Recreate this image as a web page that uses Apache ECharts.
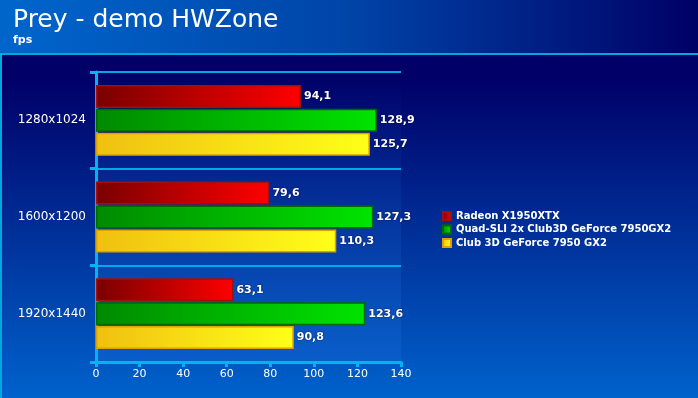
<!DOCTYPE html>
<html>
<head>
<meta charset="utf-8">
<script src="https://cdn.jsdelivr.net/npm/echarts@6/dist/echarts.min.js"></script>
<style>
html, body { margin: 0; padding: 0; background: #000066; }
#chart { width: 698px; height: 398px; }
</style>
</head>
<body>
<div id="chart"></div>
<script>
var resolutions = ['1280x1024', '1600x1200', '1920x1440'];
var radeon = [94.1, 79.6, 63.1];
var quadSli = [128.9, 127.3, 123.6];
var club3d = [125.7, 110.3, 90.8];
var seriesNames = ['Radeon X1950XTX', 'Quad-SLI 2x Club3D GeForce 7950GX2', 'Club 3D GeForce 7950 GX2'];

var myChart = echarts.init(document.getElementById('chart'));

function hGrad(a, b) {
    return new echarts.graphic.LinearGradient(0, 0, 1, 0, [
        { offset: 0, color: a },
        { offset: 1, color: b }
    ]);
}

var barLabel = {
    show: true,
    position: 'right',
    distance: 3,
    color: '#ffffff',
    fontFamily: 'DejaVu Sans',
    fontWeight: 'bold',
    fontSize: 11,
    textShadowColor: 'rgba(0,0,40,0.8)',
    textShadowBlur: 2,
    formatter: function (p) { return String(p.value).replace('.', ','); }
};

function makeSeries(name, data, c1, c2, border) {
    return {
        name: name,
        type: 'bar',
        data: data,
        barWidth: 23,
        barGap: '4%',
        label: barLabel,
        itemStyle: {
            color: hGrad(c1, c2),
            borderColor: border,
            borderWidth: 1.5
        }
    };
}

option = {
    backgroundColor: new echarts.graphic.LinearGradient(0, 0, 0, 1, [
        { offset: 0, color: '#000066' },
        { offset: 0.2, color: '#000068' },
        { offset: 1, color: '#0062cc' }
    ]),
    graphic: [
        {
            type: 'rect',
            z: -1,
            shape: { x: 0, y: 0, width: 698, height: 53 },
            style: {
                fill: new echarts.graphic.LinearGradient(0, 0, 1, 0, [
                    { offset: 0, color: '#0066cc' },
                    { offset: 0.5, color: '#0044a8' },
                    { offset: 1, color: '#000066' }
                ])
            }
        },
        {
            type: 'rect',
            shape: { x: 0, y: 53, width: 698, height: 2 },
            style: { fill: '#00a8e0' }
        },
        {
            type: 'rect',
            shape: { x: 0, y: 53, width: 2, height: 345 },
            style: { fill: '#00a8e0' }
        },
        {
            type: 'text',
            left: 13,
            top: 8,
            style: {
                text: 'Prey - demo HWZone',
                fill: '#ffffff',
                font: '25px "DejaVu Sans"'
            }
        },
        {
            type: 'text',
            left: 13,
            top: 35,
            style: {
                text: 'fps',
                fill: '#ffffff',
                font: 'bold 11px "DejaVu Sans"'
            }
        }
    ],
    legend: {
        orient: 'vertical',
        left: 437,
        top: 206,
        itemWidth: 8,
        itemHeight: 8,
        itemGap: 3.5,
        icon: 'rect',
        textStyle: {
            color: '#ffffff',
            fontFamily: 'DejaVu Sans',
            fontWeight: 'bold',
            fontSize: 10
        },
        data: seriesNames
    },
    grid: {
        left: 96,
        right: 297,
        top: 72,
        bottom: 36,
        show: true,
        borderWidth: 0,
        backgroundColor: new echarts.graphic.LinearGradient(0, 0, 0, 1, [
            { offset: 0, color: 'rgba(30,110,220,0)' },
            { offset: 1, color: 'rgba(30,110,220,0.3)' }
        ])
    },
    xAxis: {
        type: 'value',
        min: 0,
        max: 140,
        interval: 20,
        axisLine: { show: true, lineStyle: { color: '#00b4f0', width: 3 } },
        axisTick: { show: true, length: 5, lineStyle: { color: '#00b4f0', width: 3 } },
        splitLine: { show: false },
        axisLabel: {
            color: '#ffffff',
            fontFamily: 'DejaVu Sans',
            fontSize: 11,
            margin: 7
        }
    },
    yAxis: {
        type: 'category',
        inverse: true,
        data: resolutions,
        axisLine: { show: true, lineStyle: { color: '#00b4f0', width: 3 } },
        axisTick: { show: true, length: 6, lineStyle: { color: '#00b4f0', width: 3 } },
        splitLine: { show: true, lineStyle: { color: '#00a8e8', width: 2 } },
        axisLabel: {
            color: '#ffffff',
            fontFamily: 'DejaVu Sans',
            fontSize: 12,
            margin: 10
        }
    },
    series: [
        makeSeries(seriesNames[0], radeon, '#7a0000', '#ff0000', '#a01010'),
        makeSeries(seriesNames[1], quadSli, '#008a00', '#00e400', '#006a00'),
        makeSeries(seriesNames[2], club3d, '#f0c010', '#ffff18', '#e0a000')
    ]
};

if (option && typeof option === "object") {
    myChart.setOption(option, true);
}
</script>
</body>
</html>
